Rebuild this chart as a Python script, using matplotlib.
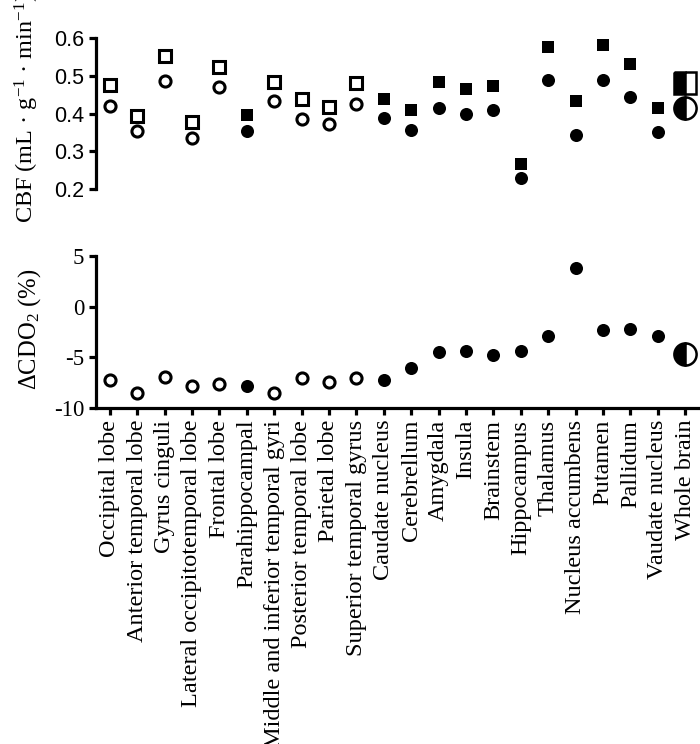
import matplotlib
matplotlib.use("Agg")
import matplotlib.pyplot as plt
import numpy as np

plt.rcParams['mathtext.fontset'] = 'custom'
plt.rcParams['mathtext.rm'] = 'Liberation Serif'
plt.rcParams['mathtext.it'] = 'Liberation Serif:italic'

regions = ["Occipital lobe", "Anterior temporal lobe", "Gyrus cinguli",
           "Lateral occipitotemporal lobe", "Frontal lobe", "Parahippocampal",
           "Middle and inferior temporal gyri", "Posterior temporal lobe",
           "Parietal lobe", "Superior temporal gyrus", "Caudate nucleus",
           "Cerebrellum", "Amygdala", "Insula", "Brainstem", "Hippocampus",
           "Thalamus", "Nucleus accumbens", "Putamen", "Pallidum",
           "Vaudate nucleus", "Whole brain"]

# 'open' = cortical, 'filled' = subcortical, 'half' = whole brain
group = ["open", "open", "open", "open", "open", "filled",
         "open", "open", "open", "open", "filled",
         "filled", "filled", "filled", "filled", "filled",
         "filled", "filled", "filled", "filled", "filled", "half"]

cbf_square = [0.476, 0.394, 0.552, 0.377, 0.524, 0.397, 0.483, 0.438, 0.418,
              0.480, 0.439, 0.408, 0.483, 0.464, 0.474, 0.267, 0.576, 0.434,
              0.581, 0.530, 0.415, 0.480]
cbf_circle = [0.420, 0.354, 0.486, 0.336, 0.469, 0.354, 0.434, 0.386, 0.372,
              0.425, 0.389, 0.357, 0.414, 0.399, 0.409, 0.229, 0.488, 0.343,
              0.488, 0.445, 0.350, 0.414]
dcdo2 = [-7.2, -8.5, -6.9, -7.8, -7.6, -7.8, -8.5, -7.0, -7.4, -7.0, -7.2,
         -6.1, -4.5, -4.4, -4.8, -4.4, -2.9, 3.8, -2.3, -2.2, -2.9, -4.7]

cbf_yticks = [0.2, 0.3, 0.4, 0.5, 0.6]
dcdo_yticks = [-10, -5, 0, 5]

W, H = 700, 744
fig = plt.figure(figsize=(W / 100, H / 100), dpi=100)
ax1 = fig.add_axes([96 / W, 1 - 189 / H, (699 - 96) / W, 151 / H])
ax2 = fig.add_axes([96 / W, 1 - 408 / H, (699 - 96) / W, 152 / H])

x = np.arange(len(regions))
serif = 'Liberation Serif'
sans = 'Liberation Sans'
lw = 2.3


def draw(ax, xs, ys, marker, g):
    for xi, yi, gi in zip(xs, ys, g):
        if gi == "open":
            ax.plot([xi], [yi], marker=marker, ls='none', ms=8.0, mew=2.2,
                    mfc='white', mec='black', clip_on=False, zorder=3)
        elif gi == "filled":
            ax.plot([xi], [yi], marker=marker, ls='none', ms=9.4 if marker == 'o' else 9.2,
                    mew=0, mfc='black', mec='black', clip_on=False, zorder=3)
        else:
            ax.plot([xi], [yi], marker=marker, ls='none', ms=16, mew=1.8,
                    mfc='black', mfcalt='white', fillstyle='left',
                    mec='black', clip_on=False, zorder=3)


draw(ax1, x, cbf_square, 's', group)
draw(ax1, x, cbf_circle, 'o', group)
draw(ax2, x, dcdo2, 'o', group)

for ax in (ax1, ax2):
    ax.set_xlim(-0.5, len(regions) - 0.5)
    for s in ('top', 'right'):
        ax.spines[s].set_visible(False)
    ax.spines['left'].set_linewidth(lw)
    ax.spines['bottom'].set_linewidth(lw)
    ax.tick_params(width=lw, length=5, direction='out')

ax1.set_ylim(0.2, 0.6)
ax1.set_yticks(cbf_yticks)
ax1.set_yticklabels([f"{v:.1f}" for v in cbf_yticks], fontfamily=sans, fontsize=15.5)
ax1.spines['bottom'].set_visible(False)
ax1.set_xticks([])
ax1.set_ylabel("CBF (mL · g$^{-1}$ · min$^{-1}$)", fontfamily=serif, fontsize=17.5)

ax2.set_ylim(-10, 5)
ax2.set_yticks(dcdo_yticks)
ax2.set_yticklabels([f"{v}" for v in dcdo_yticks], fontfamily=serif, fontsize=16.5)
ax2.set_xticks(x)
ax2.set_xticklabels(regions, rotation=90, fontfamily=serif, fontsize=17.5)
ax2.set_ylabel("ΔCDO$_2$ (%)", fontfamily=serif, fontsize=17.7)

axw = 699 - 96
ax1.yaxis.set_label_coords((41 - 96) / axw, (189 - 108) / 151)
ax2.yaxis.set_label_coords((43 - 96) / axw, (408 - 329) / 152)

fig.savefig("out.png", dpi=100)
